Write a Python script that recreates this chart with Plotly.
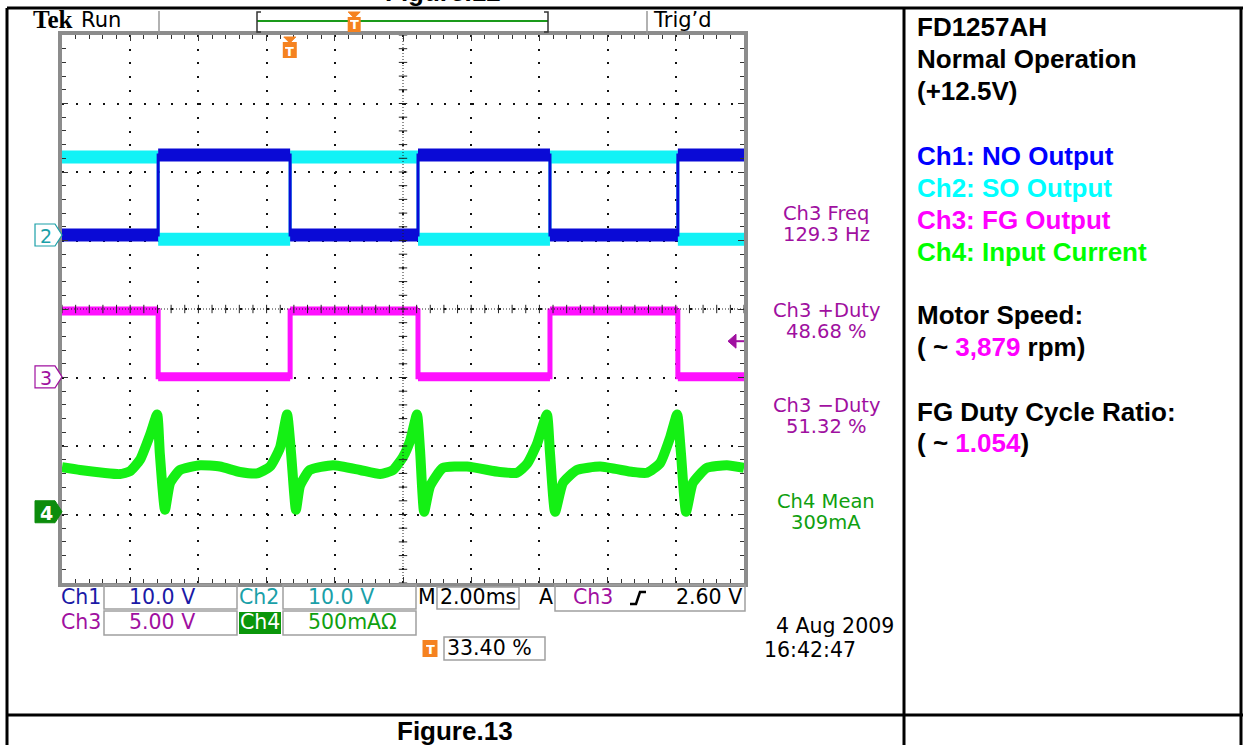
import plotly.graph_objects as go

W, H = 1243, 745

# ---------------- data ----------------
# square-wave edge times (ms) and levels between edges
step_t_ms = [0.0, 2.82, 6.69, 10.44, 14.31, 18.06, 20.0]
ch1_volts = [0.0, 11.7, 0.0, 11.7, 0.0, 11.7, 11.7]      # NO output
ch2_volts = [11.4, -0.6, 11.4, -0.6, 11.4, -0.6, -0.6]   # SO output
ch3_volts = [4.8, 0.0, 4.8, 0.0, 4.8, 0.0, 0.0]          # FG output

# input current (mA)
ch4_t_ms = [0.00, 0.53, 1.20, 1.70, 1.99, 2.29, 2.58, 2.79, 2.87, 3.02, 3.17, 3.46, 4.05,
            4.63, 5.22, 5.72, 6.10, 6.39, 6.60, 6.72, 6.86, 6.98, 7.27, 7.95, 8.74,
            9.33, 9.71, 10.00, 10.21, 10.41, 10.50, 10.62, 10.79, 11.17, 11.88, 12.84,
            13.34, 13.64, 13.93, 14.22, 14.31, 14.46, 14.69, 15.10, 15.78, 16.74,
            17.16, 17.54, 17.83, 18.04, 18.15, 18.30, 18.50, 18.91, 19.50, 20.00]
ch4_mA = [325, 305, 285, 275, 295, 380, 560, 710, 420, 15, 210, 305, 340,
          330, 290, 280, 330, 465, 710, 420, 15, 190, 305, 340, 305,
          275, 305, 400, 520, 710, 450, 0, 185, 320, 330, 290,
          285, 350, 495, 710, 430, 0, 210, 305, 330, 290,
          285, 355, 540, 710, 430, 0, 210, 320, 340, 320]

scales = {1: 10.0, 2: 10.0, 3: 5.0, 4: 500.0}          # units / div
scale_labels = ["10.0 V", "10.0 V", "5.00 V", "500mA\u03a9"]
offsets_div = {1: 1.08, 2: 1.08, 3: -0.99, 4: -2.96}    # ground marker positions
timebase_label = "2.00ms"
trigger_level_v = 2.60
trigger_pos_pct = 33.40
measurements = [("Ch3 Freq", "129.3 Hz"), ("Ch3 +Duty", "48.68 %"),
                ("Ch3 \u2212Duty", "51.32 %"), ("Ch4 Mean", "309mA")]

# ---------------- geometry helpers ----------------
GX0, GX1, GY0, GY1 = 62, 744, 35, 583   # graticule in px


def px(x):
    return x / W


def py(y):
    return 1 - y / H


def div_to_py(d):
    return (GY0 + GY1) / 2 - d * (GY1 - GY0) / 8


def to_div(ch, vals):
    return [offsets_div[ch] + v / scales[ch] for v in vals]


def segments(ts, vs):
    xs, ys = [], []
    for i in range(len(ts) - 1):
        xs += [ts[i], ts[i + 1], None]
        ys += [vs[i], vs[i], None]
    return xs, ys


C_BLUE = "#0a0ad6"
C_CYAN = "#12f2f6"
C_MAG = "#ff10ff"
C_GRN = "#14f014"
T_BLUE = "#1a1aa6"
T_TEAL = "#1aa0a8"
T_PURP = "#a010a0"
T_GRN = "#10a010"
ORANGE = "#f58220"
SCOPE_FONT = "DejaVu Sans"
FS = 20.5

fig = go.Figure()

# ---------------- traces ----------------
fig.add_trace(go.Scatter(x=ch4_t_ms, y=to_div(4, ch4_mA), mode="lines",
                         line=dict(color=C_GRN, width=10, shape="spline", smoothing=0.5),
                         hoverinfo="skip"))

for ch, vals, col, thick, thin in [(3, ch3_volts, C_MAG, 9, 5),
                                   (2, ch2_volts, C_CYAN, 13, 3),
                                   (1, ch1_volts, C_BLUE, 13, 3)]:
    yd = to_div(ch, vals)
    fig.add_trace(go.Scatter(x=step_t_ms, y=yd, mode="lines", line_shape="hv",
                             line=dict(color=col, width=thin), hoverinfo="skip"))
    sx, sy = segments(step_t_ms, yd)
    fig.add_trace(go.Scatter(x=sx, y=sy, mode="lines",
                             line=dict(color=col, width=thick), hoverinfo="skip"))

# centre cross ticks of graticule
cx_ticks = [i * 0.4 for i in range(51)]
cy_ticks = [-4 + j * 0.2 for j in range(41)]
fig.add_trace(go.Scatter(x=cx_ticks, y=[0] * len(cx_ticks), mode="markers",
                         marker=dict(symbol="line-ns", size=6, line=dict(width=1, color="#222")),
                         hoverinfo="skip", cliponaxis=False))
fig.add_trace(go.Scatter(x=[10] * len(cy_ticks), y=cy_ticks, mode="markers",
                         marker=dict(symbol="line-ew", size=6, line=dict(width=1, color="#222")),
                         hoverinfo="skip", cliponaxis=False))

shapes = []
ann = []


def line(x0, y0, x1, y1, color="black", width=3, dash=None):
    d = dict(type="line", xref="paper", yref="paper", x0=px(x0), y0=py(y0), x1=px(x1), y1=py(y1),
             line=dict(color=color, width=width))
    if dash:
        d["line"]["dash"] = dash
    shapes.append(d)


def rect(x0, y0, x1, y1, color="#a0a0a0", width=1.5, fill=None):
    shapes.append(dict(type="rect", xref="paper", yref="paper", x0=px(x0), y0=py(y0), x1=px(x1), y1=py(y1),
                       line=dict(color=color, width=width if fill is None else 0),
                       fillcolor=fill if fill else "rgba(0,0,0,0)"))


def path(pts, fill=None, color="black", width=1.5, closed=True):
    p = "M " + " L ".join(f"{px(a):.5f},{py(b):.5f}" for a, b in pts)
    if closed:
        p += " Z"
    shapes.append(dict(type="path", xref="paper", yref="paper", path=p,
                       fillcolor=fill if fill else "rgba(0,0,0,0)",
                       line=dict(color=color, width=width)))


def text(x, y, s, size=FS, color="black", anchor="left", family=SCOPE_FONT, bold=False, h=None):
    if bold:
        s = f"<b>{s}</b>"
    a = dict(x=px(x), y=py(y), xref="paper", yref="paper", text=s, showarrow=False,
             xanchor=anchor, yanchor="middle", font=dict(family=family, size=size, color=color),
             borderpad=0)
    if h:
        a["height"] = h
    ann.append(a)


# ---------------- table borders ----------------
line(7, 8, 1243, 8)
line(7, 8, 7, 745)
line(904, 8, 904, 745)
line(1241, 8, 1241, 745)
line(7, 715, 1243, 715)

# graticule centre lines (dense dots)
line((GX0 + GX1) / 2, GY0, (GX0 + GX1) / 2, GY1, color="#222", width=1, dash="1px,2px")
line(GX0, (GY0 + GY1) / 2, GX1, (GY0 + GY1) / 2, color="#222", width=1, dash="1px,2px")

# ---------------- top status bar ----------------
text(32, 20, "Tek", size=25, family="Liberation Serif", bold=True)
text(80, 20, "Run", size=21)
line(159, 11, 159, 34, color="#999", width=1.5)
line(647, 11, 647, 34, color="#999", width=1.5)
text(652, 20, "Trig\u2019d", size=21)
# record view bar
line(257, 21, 548, 21, color="#1a9a1a", width=2)
path([(261, 12), (257, 12), (257, 32), (261, 32)], color="#333", width=1.5, closed=False)
path([(544, 12), (548, 12), (548, 32), (544, 32)], color="#333", width=1.5, closed=False)


def t_icon(cx, top, tri=True, size=16):
    hh = size / 2
    if tri:
        path([(cx - 6, top), (cx + 6, top), (cx, top + 6)], fill=ORANGE, color=ORANGE, width=1)
        top += 5
    shapes.append(dict(type="rect", xref="paper", yref="paper", x0=px(cx - hh + 1), x1=px(cx + hh - 1),
                       y0=py(top), y1=py(top + size), fillcolor=ORANGE, line=dict(width=0)))
    text(cx, top + size / 2 + 0.5, "T", size=13, color="white", anchor="center", bold=True, h=size - 2)


rec_x = 257 + trigger_pos_pct / 100 * (548 - 257)
t_icon(rec_x, 12, size=15)
grat_x = GX0 + trigger_pos_pct / 100 * (GX1 - GX0)
t_icon(grat_x, 37, size=16)

# ---------------- channel ground markers ----------------
def ch_marker(num, d, color, filled):
    yc = div_to_py(d)
    pts = [(35, yc - 11), (55, yc - 11), (62, yc), (55, yc + 11), (35, yc + 11)]
    if filled:
        path(pts, fill=color, color=color, width=1)
        text(46, yc + 1, str(num), size=19, color="white", anchor="center", bold=True)
    else:
        path(pts, fill="white", color=color, width=1.2)
        text(46, yc + 1, str(num), size=19, color=color, anchor="center")


ch_marker(2, offsets_div[2], T_TEAL, False)
ch_marker(3, offsets_div[3], T_PURP, False)
ch_marker(4, offsets_div[4], "#0c8c0c", True)

# ch3 trigger level arrow
ty = div_to_py(offsets_div[3] + trigger_level_v / scales[3])
path([(728, ty), (736, ty - 7), (736, ty + 7)], fill=T_PURP, color=T_PURP, width=1)
line(736, ty, 744, ty, color=T_PURP, width=2)

# ---------------- measurements ----------------
meas_y = [(213.5, 234.5), (310.5, 331.5), (405.5, 426.5), (501.5, 522.5)]
for (lab, val), (y1, y2) in zip(measurements, meas_y):
    col = T_GRN if lab.startswith("Ch4") else T_PURP
    text(826, y1, lab, size=19.5, color=col, anchor="center")
    text(826, y2, val, size=19.5, color=col, anchor="center")

# ---------------- bottom readouts ----------------
rect(104, 585, 237, 609)
rect(283, 585, 416, 609)
rect(437, 587, 519, 609)
rect(555, 585, 745, 611)
rect(104, 611, 237, 635)
rect(283, 611, 416, 635)
rect(444, 637, 545, 660)
rect(239, 612, 281, 634, fill="#0a960a")

text(60, 597, "Ch1", color=T_BLUE)
text(162, 597, scale_labels[0], color=T_BLUE, anchor="center")
text(238, 597, "Ch2", color=T_TEAL)
text(341, 597, scale_labels[1], color=T_TEAL, anchor="center")
text(417, 597, "M")
text(478, 597, timebase_label, anchor="center")
text(538, 597, "A")
text(572, 597, "Ch3", color=T_PURP)
path([(630, 604), (636, 604), (640, 592), (646, 592)], color="black", width=2.5, closed=False)
text(743, 597, f"{trigger_level_v:.2f} V", anchor="right")

text(60, 622, "Ch3", color=T_PURP)
text(162, 622, scale_labels[2], color=T_PURP, anchor="center")
text(260, 622, "Ch4", color="white", anchor="center")
text(352, 622, scale_labels[3], color=T_GRN, anchor="center")

t_icon(430, 640, tri=False, size=17)
text(446, 648, f"{trigger_pos_pct:.2f} %")
text(775, 626, "4 Aug 2009", size=20.5)
text(763, 650, "16:42:47", size=20.5)

# ---------------- right-hand description ----------------
AR = "Liberation Sans"
RS = 26
rx = 916
text(rx, 27, "FD1257AH", size=RS, family=AR, bold=True)
text(rx, 59, "Normal Operation", size=RS, family=AR, bold=True)
text(rx, 91, "(+12.5V)", size=RS, family=AR, bold=True)
text(rx, 156, "Ch1: NO Output", size=RS, family=AR, bold=True, color="#0000ff")
text(rx, 188, "Ch2: SO Output", size=RS, family=AR, bold=True, color="#00ffff")
text(rx, 220, "Ch3: FG Output", size=RS, family=AR, bold=True, color="#ff00ff")
text(rx, 252, "Ch4: Input Current", size=RS, family=AR, bold=True, color="#00ff00")
text(rx, 315, "Motor Speed:", size=RS, family=AR, bold=True)
text(rx, 347, "( ~ <span style='color:#ff00ff'>3,879</span> rpm)", size=RS, family=AR, bold=True)
text(rx, 412, "FG Duty Cycle Ratio:", size=RS, family=AR, bold=True)
text(rx, 443, "( ~ <span style='color:#ff00ff'>1.054</span>)", size=RS, family=AR, bold=True)

# figure captions
text(443, -8, "Figure.12", size=RS, family=AR, bold=True, anchor="center")
text(455, 731, "Figure.13", size=RS, family=AR, bold=True, anchor="center")

# ---------------- layout ----------------
axis_common = dict(showticklabels=False, showgrid=True, gridcolor="#111", gridwidth=1.5,
                   griddash="2px,11.66px", ticks="inside", ticklen=6, tickcolor="#333", tickwidth=1,
                   showline=True, linecolor="#8c8c8c", linewidth=4, mirror="ticks",
                   zeroline=False, fixedrange=True)
fig.update_layout(
    width=W, height=H, margin=dict(l=0, r=0, t=0, b=0),
    paper_bgcolor="white", plot_bgcolor="white", showlegend=False,
    xaxis=dict(domain=[px(GX0), px(GX1)], range=[0, 20], tick0=0, dtick=2,
               minor=dict(dtick=0.4, ticks="inside", ticklen=4, tickcolor="#333", showgrid=False),
               **axis_common),
    yaxis=dict(domain=[py(GY1), py(GY0)], range=[-4, 4], tick0=0, dtick=1,
               minor=dict(dtick=0.2, ticks="inside", ticklen=4, tickcolor="#333", showgrid=False),
               **axis_common),
    shapes=shapes, annotations=ann,
)

fig.write_html("out.html", config={"displayModeBar": False},
               post_script="document.body.style.margin='0';document.body.style.overflow='hidden';")
